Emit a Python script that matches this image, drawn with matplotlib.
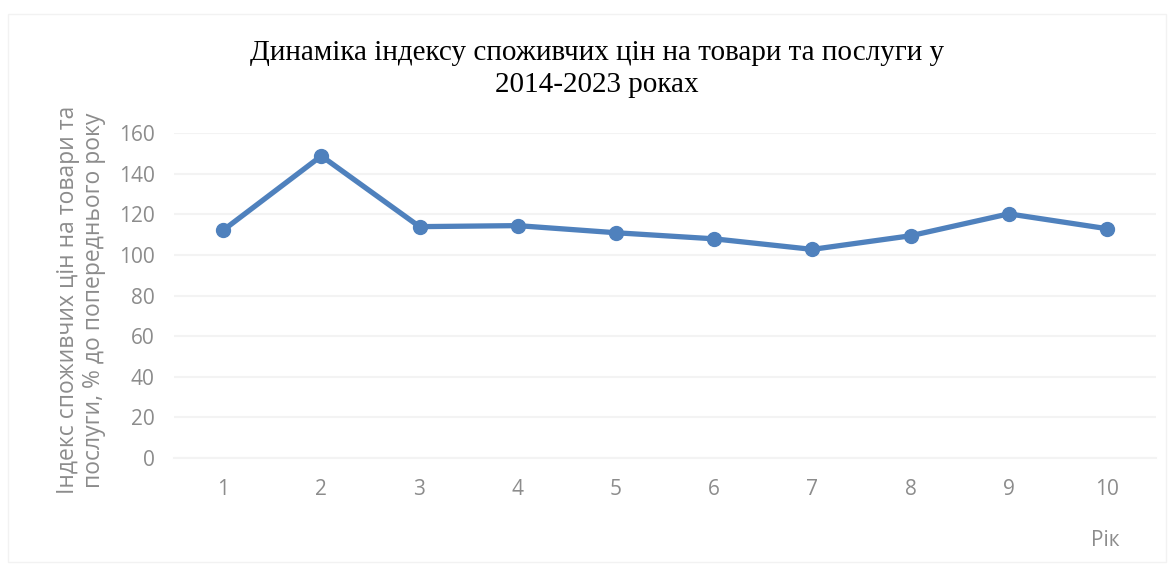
import matplotlib.pyplot as plt
from matplotlib.patches import Rectangle

# data
years = [1, 2, 3, 4, 5, 6, 7, 8, 9, 10]
cpi = [112.1, 148.7, 113.9, 114.4, 110.9, 107.9, 102.7, 109.4, 120.2, 112.9]
yticks = [0, 20, 40, 60, 80, 100, 120, 140, 160]

title = "Динаміка індексу споживчих цін на товари та послуги у\n2014-2023 роках"
ylabel = "Індекс споживчих цін на товари та\nпослуги, % до попереднього року"
xlabel = "Рік"

gray = "#8c8c8c"
blue = "#4f81bd"

fig = plt.figure(figsize=(11.74, 5.69), dpi=100)
fig.patches.append(Rectangle((8 / 1174, 1 - 562 / 569), 1158 / 1174, 548 / 569,
                             transform=fig.transFigure, fill=False,
                             edgecolor="#f2f2f2", linewidth=1))
ax = fig.add_axes([174 / 1174, 1 - 458 / 569, 982 / 1174, 325 / 569])

ax.plot(years, cpi, color=blue, linewidth=3.8, marker="o", markersize=10,
        solid_joinstyle="round", zorder=3)

ax.set_xlim(0.5, 10.5)
ax.set_ylim(0, 160)
ax.set_yticks(yticks)
ax.set_xticks(years)
ax.grid(axis="y", color="#f3f3f3", linewidth=1.5)
ax.tick_params(length=0, labelsize=15, labelcolor=gray)
ax.tick_params(axis="y", pad=14)
ax.tick_params(axis="x", pad=15)
for lab in ax.get_xticklabels() + ax.get_yticklabels():
    lab.set_family("Open Sans")
for s in ax.spines.values():
    s.set_visible(False)
ax.spines["bottom"].set_visible(True)
ax.spines["bottom"].set_color("#f3f3f3")
ax.spines["bottom"].set_linewidth(1.5)

fig.text(597 / 1174, 1 - 69 / 569, title, ha="center", va="center",
         fontsize=21, family="Liberation Serif", linespacing=1.3)
fig.text(81 / 1174, 1 - 300 / 569, ylabel, ha="center", va="center",
         rotation=90, fontsize=16.5, color=gray, family="Open Sans",
         linespacing=1.15)
fig.text(1105 / 1174, 1 - 540 / 569, xlabel, ha="center", va="center",
         fontsize=15, color=gray, family="Open Sans")

fig.savefig("out.png", dpi=100)
